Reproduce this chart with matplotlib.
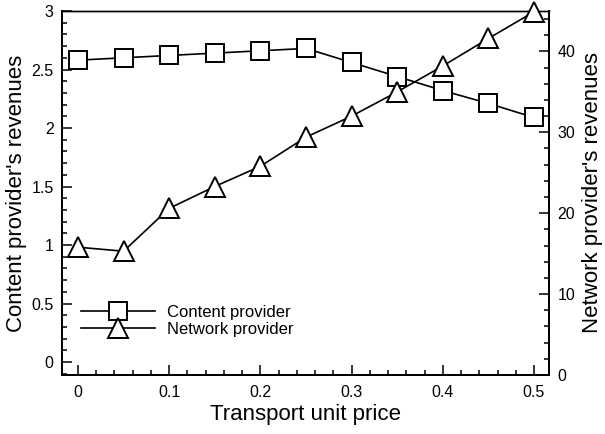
import matplotlib
matplotlib.use('Agg')
import matplotlib.pyplot as plt
from matplotlib.ticker import MultipleLocator

plt.rcParams['font.family'] = ['Liberation Sans', 'DejaVu Sans']

# data
price = [0, 0.05, 0.1, 0.15, 0.2, 0.25, 0.3, 0.35, 0.4, 0.45, 0.5]
content_rev = [2.58, 2.60, 2.62, 2.64, 2.66, 2.68, 2.56, 2.44, 2.32, 2.21, 2.09]
network_rev = [15.8, 15.3, 20.6, 23.3, 25.8, 29.4, 32.0, 35.0, 38.2, 41.6, 44.9]

fig = plt.figure(figsize=(6.05, 4.34), dpi=100)
ax = fig.add_axes([0.1025, 0.136, 0.805, 0.8387])
ax2 = ax.twinx()

l1, = ax.plot(price, content_rev, color='black', lw=1.2, marker='s', markersize=13.5,
              markerfacecolor='white', markeredgecolor='black', markeredgewidth=1.4,
              label='Content provider', clip_on=False, zorder=3)
l2, = ax2.plot(price, network_rev, color='black', lw=1.2, marker='^', markersize=15,
               markerfacecolor='white', markeredgecolor='black', markeredgewidth=1.4,
               label='Network provider', clip_on=False, zorder=3)

ax.set_xlim(-0.0175, 0.5165)
ax.set_ylim(-0.11, 3)
ax2.set_ylim(0, 45)

ax.xaxis.set_major_locator(MultipleLocator(0.1))
ax.xaxis.set_minor_locator(MultipleLocator(0.02))
ax.yaxis.set_major_locator(MultipleLocator(0.5))
ax.yaxis.set_minor_locator(MultipleLocator(0.1))
ax2.yaxis.set_major_locator(MultipleLocator(10))
ax2.yaxis.set_minor_locator(MultipleLocator(2))

ax.tick_params(which='both', direction='in', top=False, right=False, labelsize=11.5, width=1.1)
ax.tick_params(which='major', length=7)
ax.tick_params(which='minor', length=3.5)
ax.tick_params(axis='x', pad=7)
ax.tick_params(axis='y', pad=6)
ax2.tick_params(which='both', direction='in', labelsize=11.5, width=1.1, pad=6)
ax2.tick_params(which='major', length=7)
ax2.tick_params(which='minor', length=3.5)

ax.xaxis.set_major_formatter(plt.FuncFormatter(lambda v, p: f'{v:g}'))
ax.yaxis.set_major_formatter(plt.FuncFormatter(lambda v, p: f'{v:g}'))

for a in (ax, ax2):
    for s in a.spines.values():
        s.set_linewidth(1.4)
ax.spines['top'].set_linewidth(1.0)
ax2.spines['top'].set_linewidth(1.0)

ax.set_xlabel('Transport unit price', fontsize=16, labelpad=3)
ax.set_ylabel("Content provider's revenues", fontsize=16, labelpad=3)
ax2.set_ylabel("Network provider's revenues", fontsize=16, labelpad=5)

leg = ax2.legend([l1, l2], ['Content provider', 'Network provider'], loc='lower left',
                 bbox_to_anchor=(0.04, 0.105), frameon=False, fontsize=12, handlelength=4.4,
                 handletextpad=0.75, labelspacing=0.1, borderpad=0, borderaxespad=0, numpoints=1)

fig.savefig('out.png', dpi=100)
